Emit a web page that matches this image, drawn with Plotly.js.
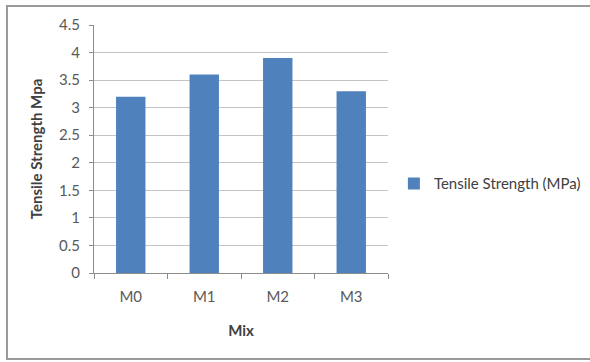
<!DOCTYPE html>
<html>
<head>
<meta charset="utf-8">
<script src="https://cdn.plot.ly/plotly-3.0.1.min.js"></script>
<style>
  html, body { margin: 0; padding: 0; background: #ffffff; overflow: hidden; }
  #wrap { position: relative; width: 590px; height: 362px; overflow: hidden; }
  #chart { width: 590px; height: 362px; }
  /* chart-area frame, open on the right where it runs off the edge */
  #frame {
    position: absolute; left: 6px; top: 5px; width: 620px; height: 351px;
    border: 2px solid #9a9a9a; border-right: none; pointer-events: none;
  }
</style>
</head>
<body>
<div id="wrap">
  <div id="chart"></div>
  <div id="frame"></div>
</div>
<script>
// Split tensile strength per mix
const mixes = ['M0', 'M1', 'M2', 'M3'];
const tensileStrength = [3.2, 3.6, 3.9, 3.3];
const seriesName = 'Tensile Strength (MPa)';
const yTickValues = [0, 0.5, 1, 1.5, 2, 2.5, 3, 3.5, 4, 4.5];
const yTickLabels = ['0', '0.5', '1', '1.5', '2', '2.5', '3', '3.5', '4', '4.5'];

const font = 'Lato, "Open Sans", sans-serif';

const trace = {
  type: 'bar',
  x: mixes,
  y: tensileStrength,
  name: seriesName,
  showlegend: true,
  marker: { color: '#4f81bd', line: { width: 0 } },
  hoverinfo: 'x+y'
};

const layout = {
  width: 590,
  height: 362,
  margin: { l: 94, r: 202, t: 25, b: 89, autoexpand: false },
  paper_bgcolor: '#ffffff',
  plot_bgcolor: '#ffffff',
  bargap: 0.6,
  font: { family: font, size: 15, color: '#595959' },
  showlegend: true,
  legend: {
    // legend sits just right of the plot area
    x: 1.02, y: 0.36, xref: 'paper', xanchor: 'left', yanchor: 'middle',
    font: { family: font, size: 15, color: '#404040' },
    bgcolor: 'rgba(0,0,0,0)'
  },
  xaxis: {
    type: 'category',
    showline: true, linecolor: '#8c8c8c', linewidth: 1,
    ticks: 'outside', tickson: 'boundaries', ticklen: 5, tickcolor: '#8c8c8c',
    ticklabelstandoff: 10,
    showgrid: false,
    tickfont: { family: font, size: 15, color: '#595959' },
    title: { text: '<b>Mix</b>', font: { family: font, size: 15, color: '#404040' }, standoff: 21 }
  },
  yaxis: {
    range: [0, 4.5],
    tickvals: yTickValues,
    ticktext: yTickLabels,
    showline: true, linecolor: '#8c8c8c', linewidth: 1,
    ticks: 'outside', ticklen: 4, tickcolor: '#8c8c8c',
    ticklabelstandoff: 6,
    showgrid: true, gridcolor: '#c4c4c4', gridwidth: 1,
    zeroline: false,
    tickfont: { family: font, size: 15, color: '#595959' },
    title: { text: '<b>Tensile Strength Mpa</b>', font: { family: font, size: 15, color: '#404040' }, standoff: 12 }
  }
};

Plotly.newPlot('chart', [trace], layout, { displayModeBar: false, staticPlot: true });
</script>
</body>
</html>
